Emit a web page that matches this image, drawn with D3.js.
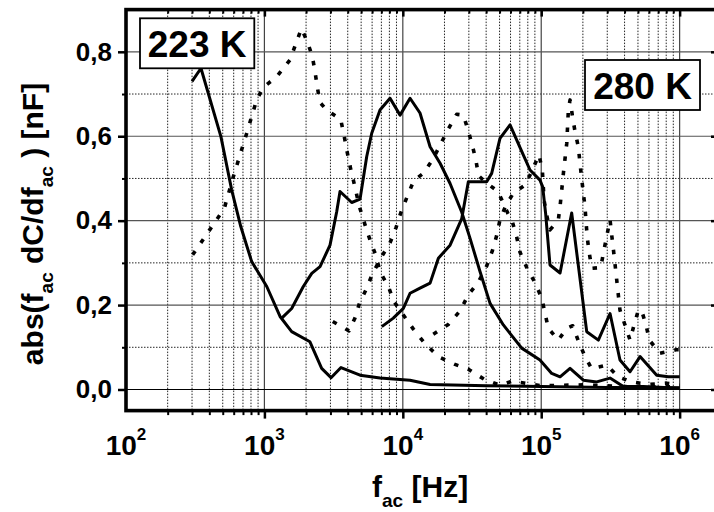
<!DOCTYPE html>
<html>
<head>
<meta charset="utf-8">
<script src="https://cdn.jsdelivr.net/npm/d3@7"></script>
<style>
  html, body { margin: 0; padding: 0; background: #fff; }
  svg { display: block; }
  text { font-family: "Liberation Sans", Arial, sans-serif; font-weight: bold; fill: #000; }
</style>
</head>
<body>
<svg id="chart" width="714" height="512"></svg>
<script>
// ---- data: [frequency (Hz), |f dC/df| (nF)] ----
const curve223K = [[300,0.730],[348,0.761],[485,0.599],[580,0.473],[675,0.386],[809,0.303],[1040,0.244],[1297,0.173],[1574,0.137],[2133,0.113],[2592,0.050],[3030,0.028],[3575,0.052],[4909,0.034],[6842,0.027],[11270,0.022],[15740,0.012],[40000,0.009],[100000,0.007],[300000,0.005],[1000000,0.004]];
const curveT2 = [[303,0.319],[513,0.429],[596,0.504],[745,0.607],[879,0.686],[982,0.716],[1227,0.741],[1531,0.781],[1850,0.855],[2043,0.824],[2220,0.789],[2321,0.753],[2412,0.716],[2523,0.680],[2818,0.662],[3557,0.640],[3757,0.603],[3932,0.568],[4150,0.530],[4392,0.496],[4857,0.433],[5335,0.390],[5797,0.354],[6401,0.317],[6842,0.279],[7857,0.244],[8636,0.208],[11920,0.143],[14450,0.109],[18060,0.078],[23570,0.060],[29740,0.048],[38800,0.024],[50350,0.010],[62000,0.020],[80000,0.014],[100000,0.009],[200000,0.011],[400000,0.007],[1000000,0.006]];
const curveT3 = [[1334,0.169],[1574,0.192],[1910,0.244],[2198,0.275],[2523,0.291],[2979,0.342],[3329,0.421],[3518,0.469],[4273,0.443],[4909,0.451],[5486,0.552],[5962,0.607],[6842,0.662],[8085,0.690],[9552,0.650],[11280,0.690],[13310,0.655],[15740,0.575],[18590,0.536],[21950,0.488],[26660,0.420],[30610,0.358],[36160,0.279],[42690,0.204],[53240,0.153],[72290,0.098],[97940,0.070],[119100,0.038],[136800,0.030],[161500,0.050],[201500,0.022],[251800,0.018],[314200,0.027],[391800,0.007],[546600,0.007],[1000000,0.003]];
const curveT4 = [[3118,0.161],[4086,0.139],[4505,0.169],[4857,0.204],[5485,0.240],[6050,0.275],[6953,0.312],[8122,0.349],[8920,0.383],[9700,0.420],[10700,0.455],[12000,0.495],[14060,0.512],[16400,0.544],[18600,0.579],[21300,0.617],[24500,0.652],[27400,0.650],[29700,0.613],[31800,0.578],[33800,0.542],[35200,0.507],[39300,0.492],[48700,0.469],[57300,0.418],[61800,0.398],[66500,0.361],[70300,0.325],[78600,0.289],[90200,0.253],[100900,0.216],[106500,0.181],[112500,0.145],[132900,0.117],[152900,0.145],[168900,0.151],[185400,0.115],[207200,0.078],[231600,0.049],[297200,0.058],[360700,0.030],[450000,0.018],[600000,0.012],[800000,0.015],[1000000,0.010]];
const curveT5 = [[7050,0.149],[8536,0.169],[10090,0.192],[11280,0.228],[13310,0.240],[15740,0.252],[18070,0.311],[21950,0.342],[26660,0.405],[29740,0.492],[40360,0.492],[43850,0.512],[50350,0.595],[59530,0.627],[72290,0.564],[82990,0.520],[97940,0.496],[102500,0.480],[107600,0.417],[112500,0.342],[115700,0.295],[136800,0.276],[166000,0.418],[213200,0.137],[258700,0.117],[314200,0.180],[370700,0.070],[438200,0.042],[517800,0.078],[682800,0.034],[828400,0.030],[1000000,0.030]];
const curve280K = [[16600,0.131],[21300,0.154],[25900,0.186],[29700,0.224],[35200,0.255],[40400,0.293],[44400,0.329],[47600,0.364],[50350,0.402],[55300,0.435],[62800,0.465],[76900,0.485],[86300,0.520],[96300,0.556],[101900,0.520],[104800,0.449],[109500,0.413],[115700,0.378],[133000,0.402],[137500,0.441],[140700,0.473],[144600,0.512],[148700,0.548],[152900,0.583],[157100,0.662],[161500,0.686],[168900,0.643],[175500,0.611],[185400,0.575],[190600,0.536],[196000,0.500],[201500,0.465],[207200,0.433],[210700,0.398],[215400,0.358],[222500,0.323],[231600,0.287],[269300,0.289],[281200,0.323],[314200,0.402],[323000,0.366],[332000,0.333],[341300,0.297],[360700,0.224],[370700,0.188],[402700,0.153],[438200,0.117],[468700,0.153],[503700,0.188],[532600,0.186],[571500,0.153],[603900,0.117],[721200,0.086],[941300,0.094],[1000000,0.094]];

// line style per series: solid or dotted
const seriesList = [
  { data: curve223K, dotted: false },
  { data: curveT2,   dotted: true  },
  { data: curveT3,   dotted: false },
  { data: curveT4,   dotted: true  },
  { data: curveT5,   dotted: false },
  { data: curve280K, dotted: true  }
];

// axis ticks and labels
const xDecades = [2, 3, 4, 5, 6];
const yMajorTicks = [0, 0.2, 0.4, 0.6, 0.8];
const yMinorTicks = [0.1, 0.3, 0.5, 0.7];
const yTickLabels = ["0,0", "0,2", "0,4", "0,6", "0,8"];
const tempLabels = ["223 K", "280 K"];

// ---- layout ----
const svg = d3.select("#chart");
const P = { left: 126, right: 717, top: 9.6, bottom: 410.6 };

const x = d3.scaleLog().domain([100, Math.pow(10, 6.27)]).range([P.left, P.right]);
const y = d3.scaleLinear().domain([-0.05, 0.9]).range([P.bottom, P.top]);

const xMajor = [1e3, 1e4, 1e5, 1e6];
const xMinor = [];
for (let e = 2; e <= 6; e++) for (let k = 2; k <= 9; k++) {
  const v = k * Math.pow(10, e);
  if (v < x.domain()[1]) xMinor.push(v);
}

// ---- grid ----
const grid = svg.append("g");
grid.selectAll(".vmin").data(xMinor).join("line")
  .attr("x1", d => x(d)).attr("x2", d => x(d)).attr("y1", P.top).attr("y2", P.bottom)
  .attr("stroke", "#000").attr("stroke-width", 1).attr("stroke-dasharray", "1.5,1.5").attr("opacity", 0.85);
grid.selectAll(".hmin").data(yMinorTicks).join("line")
  .attr("x1", P.left).attr("x2", P.right).attr("y1", d => y(d)).attr("y2", d => y(d))
  .attr("stroke", "#000").attr("stroke-width", 1).attr("stroke-dasharray", "1.5,1.5").attr("opacity", 0.85);
grid.selectAll(".vmaj").data(xMajor).join("line")
  .attr("x1", d => x(d)).attr("x2", d => x(d)).attr("y1", P.top).attr("y2", P.bottom)
  .attr("stroke", "#444").attr("stroke-width", 1.2);
grid.selectAll(".hmaj").data(yMajorTicks).join("line")
  .attr("x1", P.left).attr("x2", P.right).attr("y1", d => y(d)).attr("y2", d => y(d))
  .attr("stroke", d => d === 0 ? "#000" : "#555").attr("stroke-width", 1.2);

// ---- curves ----
svg.append("clipPath").attr("id", "plotClip").append("rect")
  .attr("x", P.left).attr("y", P.top).attr("width", P.right - P.left).attr("height", P.bottom - P.top);

const line = d3.line().x(d => x(d[0])).y(d => y(d[1]));
const curves = svg.append("g").attr("clip-path", "url(#plotClip)");
curves.selectAll("path").data(seriesList).join("path")
  .attr("d", d => line(d.data))
  .attr("fill", "none")
  .attr("stroke", "#000")
  .attr("stroke-width", d => d.dotted ? 3.6 : 3)
  .attr("stroke-dasharray", d => d.dotted ? "4.5,10" : null)
  .attr("stroke-linejoin", "round");

// ---- axes ----
const axes = svg.append("g");
function styleAxis(g, w) {
  g.select(".domain").remove();
  g.selectAll(".tick line").attr("stroke", "#000").attr("stroke-width", w);
}
axes.append("g").attr("transform", `translate(0,${P.bottom})`)
  .call(d3.axisBottom(x).tickValues(xMajor).tickSize(8).tickFormat(""))
  .call(g => styleAxis(g, 2.5));
axes.append("g").attr("transform", `translate(0,${P.bottom})`)
  .call(d3.axisBottom(x).tickValues(xMinor).tickSize(4.5).tickFormat(""))
  .call(g => styleAxis(g, 2));
axes.append("g").attr("transform", `translate(0,${P.top})`)
  .call(d3.axisBottom(x).tickValues(xMajor).tickSize(7).tickFormat(""))
  .call(g => styleAxis(g, 2.5));
axes.append("g").attr("transform", `translate(0,${P.top})`)
  .call(d3.axisBottom(x).tickValues(xMinor).tickSize(4).tickFormat(""))
  .call(g => styleAxis(g, 2));
axes.append("g").attr("transform", `translate(${P.left},0)`)
  .call(d3.axisLeft(y).tickValues(yMajorTicks).tickSize(8).tickPadding(6)
    .tickFormat((d, i) => yTickLabels[i]))
  .call(g => styleAxis(g, 2.5))
  .call(g => g.selectAll(".tick text").attr("font-size", 26).attr("font-weight", "bold")
    .attr("font-family", "'Liberation Sans', Arial, sans-serif").attr("fill", "#000"));
axes.append("g").attr("transform", `translate(${P.left},0)`)
  .call(d3.axisLeft(y).tickValues(yMinorTicks).tickSize(4).tickFormat(""))
  .call(g => styleAxis(g, 2));
axes.append("g").attr("transform", `translate(${P.right},0)`)
  .call(d3.axisLeft(y).tickValues(yMajorTicks).tickSize(6).tickFormat(""))
  .call(g => styleAxis(g, 2.5));

// frame
axes.append("rect")
  .attr("x", P.left).attr("y", P.top).attr("width", P.right - P.left).attr("height", P.bottom - P.top)
  .attr("fill", "none").attr("stroke", "#000").attr("stroke-width", 3.6);

// x tick labels 10^n
const xl = svg.append("g");
xDecades.forEach(e => {
  const t = xl.append("text").attr("x", x(Math.pow(10, e))).attr("y", 455)
    .attr("text-anchor", "middle").attr("font-size", 28);
  t.append("tspan").text("10");
  t.append("tspan").attr("font-size", 17).attr("dy", -15).text(e);
});

// axis titles
const xt = svg.append("text").attr("x", 372).attr("y", 497).attr("font-size", 30);
xt.append("tspan").text("f");
xt.append("tspan").attr("font-size", 19).attr("dy", 10).text("ac");
xt.append("tspan").attr("dy", -10).text(" [Hz]");

const yt = svg.append("text").attr("transform", "translate(43,224) rotate(-90)")
  .attr("text-anchor", "middle").attr("font-size", 30);
yt.append("tspan").text("abs(f");
yt.append("tspan").attr("font-size", 19).attr("dy", 10).text("ac");
yt.append("tspan").attr("dy", -10).text(" dC/df");
yt.append("tspan").attr("font-size", 19).attr("dy", 10).text("ac");
yt.append("tspan").attr("dy", -10).text(" ) [nF]");

// temperature boxes
const boxes = [
  { label: tempLabels[0], x0: 140, y0: 18.3, x1: 254.3, y1: 68.3 },
  { label: tempLabels[1], x0: 585, y0: 60, x1: 700, y1: 110 }
];
boxes.forEach(b => {
  svg.append("rect").attr("x", b.x0).attr("y", b.y0).attr("width", b.x1 - b.x0).attr("height", b.y1 - b.y0)
    .attr("fill", "#fff").attr("stroke", "#000").attr("stroke-width", 1.8);
  svg.append("text").attr("x", (b.x0 + b.x1) / 2).attr("y", b.y1 - 11.5)
    .attr("text-anchor", "middle").attr("font-size", 37).text(b.label);
});
</script>
</body>
</html>
